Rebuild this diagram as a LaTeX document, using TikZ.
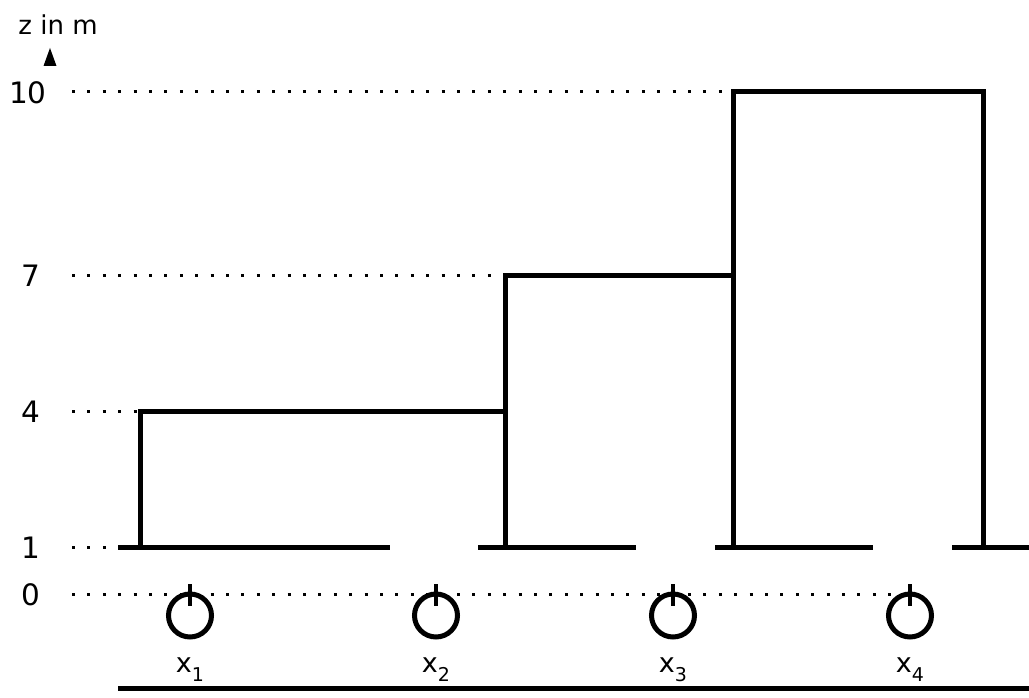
\documentclass[tikz,border=0pt]{standalone}
\usepackage{fontspec}
\setmainfont{DejaVu Sans}
\begin{document}
\begin{tikzpicture}[x=1pt,y=-1pt,
  thickline/.style={line width=5pt},
  dotline/.style={line width=3pt,dash pattern=on 3pt off 12.4pt},
  lvl/.style={font=\fontsize{29.5}{34}\selectfont,inner sep=0pt},
  xlab/.style={font=\fontsize{27}{32}\selectfont,inner sep=0pt,anchor=base},
  pump/.style={circle,draw,line width=5pt,minimum size=43pt,inner sep=0pt}]
\useasboundingbox (0,0) rectangle (1029,698);
% axis label
\node[font=\fontsize{26}{30}\selectfont,inner sep=0pt,anchor=base] (zl) at (58,35) {z in m};
\fill (50,48) coordinate (tip) -- (56.5,66) -- (43.5,66) -- cycle;
% level labels
\node[lvl] (l10) at (28,92.5) {10};
\node[lvl] (l7) at (31,275.5) {7};
\node[lvl] (l4) at (31,411.5) {4};
\node[lvl] (l1) at (31,547.5) {1};
\node[lvl] (l0) at (31,594.5) {0};
% coordinates
\coordinate (d10) at (72,92); \coordinate (c10) at (733,92);
\coordinate (d7) at (72,275); \coordinate (c7) at (505,275);
\coordinate (d4) at (72,411); \coordinate (c4) at (140,411);
\coordinate (d1) at (72,547); \coordinate (c1) at (118,547);
\coordinate (d0) at (72,594); \coordinate (c0) at (910,594);
% dotted lines
\draw[dotline] (d10) -- (c10);
\draw[dotline] (d7) -- (c7);
\draw[dotline] (d4) -- (c4);
\draw[dotline] (d1) -- (c1);
\draw[dotline] (d0) -- (c0);
% step profile
\draw[thickline] (140,549.5) -- (c4) -- (505,411);
\draw[thickline] (505,549.5) -- (c7) -- (733,275);
\draw[thickline] (733,549.5) -- (c10) -- (983,92) -- (983,549.5);
% ground segments
\draw[thickline] (118,547) -- (390,547);
\draw[thickline] (478,547) -- (636,547);
\draw[thickline] (715,547) -- (873,547);
\draw[thickline] (952,547) -- (1029,547);
% pumps
\foreach \i/\x in {1/190,2/436,3/673,4/910}{
  \node[pump] (p\i) at (\x,615.5) {};
  \draw[line width=4.5pt] (\x,584) -- (\x,606);
  \node[xlab] (x\i) at (\x,672) {x\raisebox{-9pt}{\fontsize{19}{22}\selectfont \i}};
}
% bottom line
\draw[thickline] (118,688) -- (1029,688);
\end{tikzpicture}
\end{document}
